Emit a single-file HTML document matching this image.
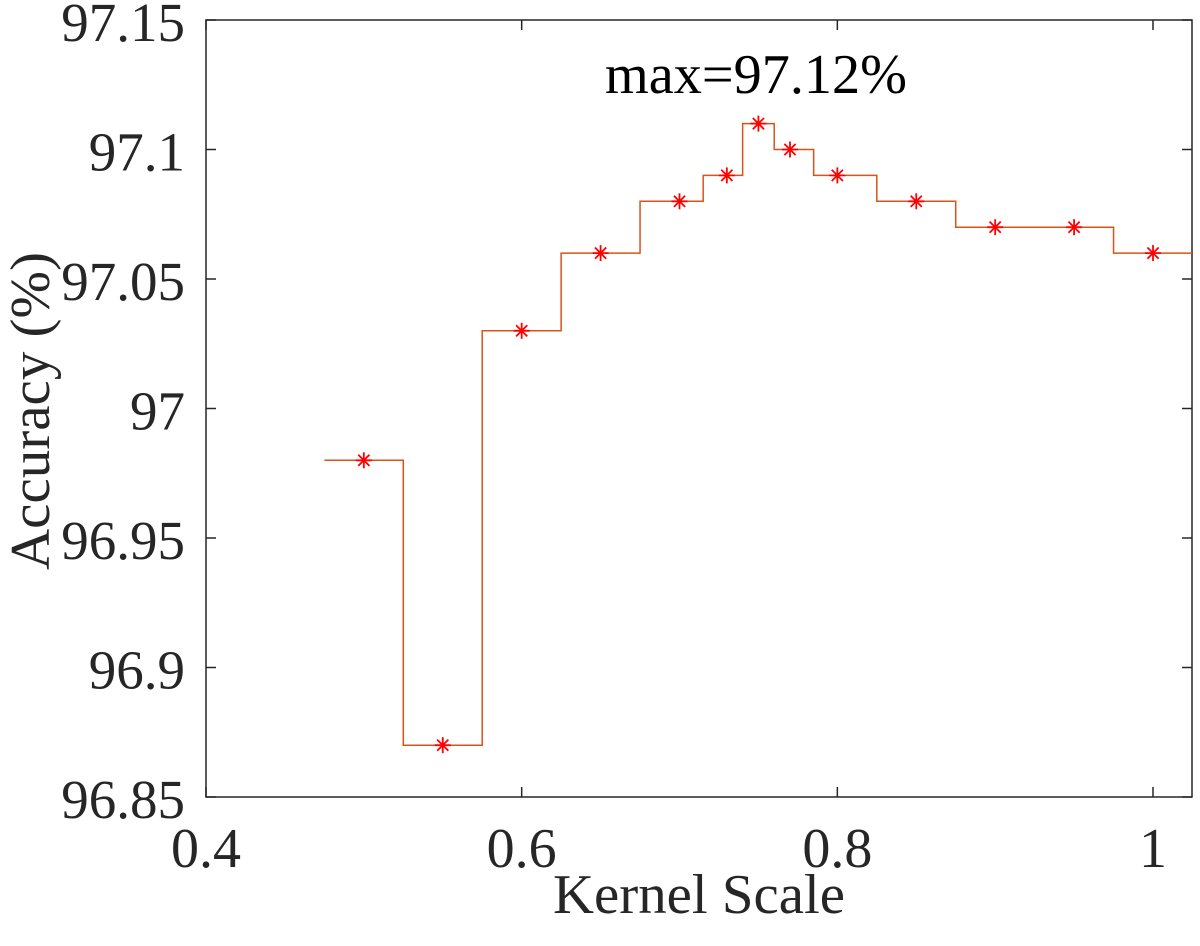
<!DOCTYPE html>
<html><head><meta charset="utf-8"><style>
html,body{margin:0;padding:0;background:#fff;}
svg text{font-family:"Liberation Serif",serif;fill:#262626;}
</style></head><body>
<svg id="chart" width="1200" height="941" viewBox="0 0 1200 941" xmlns="http://www.w3.org/2000/svg">
<g id="axes"></g>
<g id="series"></g>
<text x="756" y="93" font-size="56" text-anchor="middle" textLength="302" lengthAdjust="spacingAndGlyphs" style="fill:#000">max=97.12%</text>
<text x="699" y="913" font-size="56" text-anchor="middle" textLength="292" lengthAdjust="spacingAndGlyphs">Kernel Scale</text>
<text transform="translate(49,411) rotate(-90)" font-size="56" text-anchor="middle" textLength="318" lengthAdjust="spacingAndGlyphs">Accuracy (%)</text>
</svg>
<script>
const kernelScale=[0.5,0.55,0.6,0.65,0.7,0.73,0.75,0.77,0.8,0.85,0.9,0.95,1.0];
const accuracy=[96.98,96.87,97.03,97.06,97.08,97.09,97.11,97.10,97.09,97.08,97.07,97.07,97.06];
const xTicks=[0.4,0.6,0.8,1.0];
const xTickLabels=["0.4","0.6","0.8","1"];
const yTicks=[96.85,96.9,96.95,97,97.05,97.1,97.15];
const yTickLabels=["96.85","96.9","96.95","97","97.05","97.1","97.15"];

const L=206,R=1192,T=20,B=797;
const xMin=0.4,xMax=1.0247,yMin=96.85,yMax=97.15;
const xs=v=>L+(v-xMin)/(xMax-xMin)*(R-L);
const ys=v=>B-(v-yMin)/(yMax-yMin)*(B-T);
const NS="http://www.w3.org/2000/svg";
function mk(tag,attrs,parent){const e=document.createElementNS(NS,tag);for(const k in attrs)e.setAttribute(k,attrs[k]);parent.appendChild(e);return e;}
const axes=document.getElementById('axes');
const series=document.getElementById('series');

const box=mk('rect',{x:L,y:T,width:R-L,height:B-T,fill:'none',stroke:'#262626','stroke-width':1.5},axes);



xTicks.forEach((v,i)=>{
  const x=xs(v);
  const t1=mk('line',{x1:x,y1:B,x2:x,y2:B-10,stroke:'#262626','stroke-width':1.5},axes);
  
  
  const t2=mk('line',{x1:x,y1:T,x2:x,y2:T+10,stroke:'#262626','stroke-width':1.5},axes);
  
  
  const lb=mk('text',{x:x,y:867,'font-size':56,'text-anchor':'middle'},axes);
  lb.textContent=xTickLabels[i];
  
  
});
yTicks.forEach((v,i)=>{
  const y=ys(v);
  const t1=mk('line',{x1:L,y1:y,x2:L+10,y2:y,stroke:'#262626','stroke-width':1.5},axes);
  
  
  const t2=mk('line',{x1:R,y1:y,x2:R-10,y2:y,stroke:'#262626','stroke-width':1.5},axes);
  
  
  const lb=mk('text',{x:L-21,y:y+21,'font-size':55,'text-anchor':'end'},axes);
  lb.textContent=yTickLabels[i];
  
  
});

const n=kernelScale.length;
const edges=[];
edges.push(kernelScale[0]-(kernelScale[1]-kernelScale[0])/2);
for(let i=0;i<n-1;i++)edges.push((kernelScale[i]+kernelScale[i+1])/2);
edges.push(kernelScale[n-1]+(kernelScale[n-1]-kernelScale[n-2])/2);
let d='';
for(let i=0;i<n;i++){
  const y=ys(accuracy[i]);
  d+=(i===0?'M':'L')+xs(edges[i])+','+y+' L'+xs(Math.min(edges[i+1],xMax))+','+y+' ';
}
const path=mk('path',{d:d,fill:'none',stroke:'#D95319','stroke-width':1.5},series);



for(let i=0;i<n;i++){
  const cx=xs(kernelScale[i]),cy=ys(accuracy[i]),r=8;
  const g=mk('g',{stroke:'#FF0000','stroke-width':1.8},series);
  
  
  mk('line',{x1:cx-r,y1:cy,x2:cx+r,y2:cy},g);
  mk('line',{x1:cx,y1:cy-r,x2:cx,y2:cy+r},g);
  mk('line',{x1:cx-r*0.7,y1:cy-r*0.7,x2:cx+r*0.7,y2:cy+r*0.7},g);
  mk('line',{x1:cx-r*0.7,y1:cy+r*0.7,x2:cx+r*0.7,y2:cy-r*0.7},g);
}
</script>
</body></html>
